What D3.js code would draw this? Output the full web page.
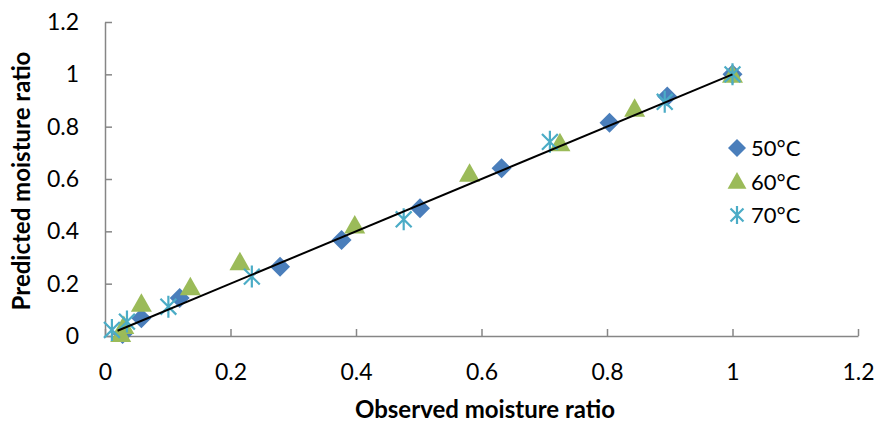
<!DOCTYPE html>
<html><head><meta charset="utf-8">
<script src="https://cdn.jsdelivr.net/npm/d3@7"></script>
<style>body{margin:0;background:#fff}svg{display:block}text{font-family:Lato,"Open Sans",sans-serif;fill:#000}</style>
</head><body><svg id="c" width="876" height="424"></svg>
<script>
const obs50 = [1.0, 0.896, 0.804, 0.632, 0.502, 0.377, 0.279, 0.119, 0.058, 0.028];
const pred50 = [1.0, 0.915, 0.815, 0.641, 0.488, 0.367, 0.265, 0.145, 0.068, 0.008];
const obs60 = [1.0, 0.844, 0.725, 0.581, 0.398, 0.215, 0.136, 0.058, 0.03, 0.025];
const pred60 = [1.0, 0.87, 0.739, 0.622, 0.424, 0.284, 0.188, 0.125, 0.04, 0.01];
const obs70 = [1.0, 0.892, 0.709, 0.476, 0.234, 0.101, 0.035, 0.011];
const pred70 = [1.0, 0.895, 0.742, 0.446, 0.227, 0.112, 0.055, 0.023];
const fitX = [0.02, 1.0];
const fitY = [0.02, 1.0];
const ticks = [0, 0.2, 0.4, 0.6, 0.8, 1, 1.2];
const seriesNames = ["50°C", "60°C", "70°C"];

const svg = d3.select("#c");
const x = d3.scaleLinear().domain([0, 1.2]).range([105, 858]);
const y = d3.scaleLinear().domain([0, 1.2]).range([336, 22]);
const axisCol = "#868686";

const xa = svg.append("g").attr("transform", "translate(0,336)")
  .call(d3.axisBottom(x).tickValues(ticks).tickFormat(d3.format("")).tickSizeInner(-7).tickSizeOuter(0).tickPadding(28));
const ya = svg.append("g").attr("transform", "translate(105,0)")
  .call(d3.axisLeft(y).tickValues(ticks).tickFormat(d3.format("")).tickSizeInner(-7).tickSizeOuter(0).tickPadding(26));
[xa, ya].forEach(a => {
  a.selectAll("path,line").attr("stroke", axisCol).attr("stroke-width", 1.5);
  a.selectAll("text").style("font-size", "23px").style("font-family", "Lato,sans-serif").attr("fill", "#000");
});

const colors = ["#4A7EBB", "#9BBB59", "#4BACC6"];
const diamond = (cx, cy, r) => `M${cx},${cy - r}L${cx + r},${cy}L${cx},${cy + r}L${cx - r},${cy}Z`;
const tri = (cx, cy, r) => `M${cx},${cy - r}L${cx + r * 1.05},${cy + r * 0.85}L${cx - r * 1.05},${cy + r * 0.85}Z`;
const starX = (cx, cy, r) => {
  let p = `M${cx},${cy - r}L${cx},${cy + r}`;
  const d = r * 0.72;
  p += `M${cx - d},${cy - d}L${cx + d},${cy + d}M${cx + d},${cy - d}L${cx - d},${cy + d}`;
  return p;
};

const g = svg.append("g");
g.selectAll(".d").data(obs50.map((v, i) => [v, pred50[i]])).enter().append("path")
  .attr("d", d => diamond(x(d[0]), y(d[1]), 10)).attr("fill", colors[0]);
g.selectAll(".t").data(obs60.map((v, i) => [v, pred60[i]])).enter().append("path")
  .attr("d", d => tri(x(d[0]), y(d[1]), 10)).attr("fill", colors[1]);
g.selectAll(".s").data(obs70.map((v, i) => [v, pred70[i]])).enter().append("path")
  .attr("d", d => starX(x(d[0]), y(d[1]), 11)).attr("stroke", colors[2]).attr("stroke-width", 2.2).attr("fill", "none");

svg.append("path").datum(fitX.map((v, i) => [v, fitY[i]]))
  .attr("d", d3.line().x(d => x(d[0])).y(d => y(d[1])))
  .attr("stroke", "#000").attr("stroke-width", 2).attr("fill", "none");

// legend
const lg = svg.append("g");
const ly = [148, 182, 215];
lg.append("path").attr("d", diamond(737, ly[0], 9)).attr("fill", colors[0]);
lg.append("path").attr("d", tri(737, ly[1] - 1, 9)).attr("fill", colors[1]);
lg.append("path").attr("d", starX(737, ly[2], 9)).attr("stroke", colors[2]).attr("stroke-width", 2.2).attr("fill", "none");
seriesNames.forEach((n, i) => {
  lg.append("text").attr("x", 751).attr("y", ly[i]).attr("dy", "0.35em").style("font-size", "22px").text(n);
});

svg.append("text").attr("x", 485).attr("y", 410).attr("text-anchor", "middle").attr("dy", "0.35em")
  .style("font-size", "24px").style("font-weight", "bold").text("Observed moisture ratio");
svg.append("text").attr("transform", "translate(22,181) rotate(-90)").attr("text-anchor", "middle").attr("dy", "0.35em")
  .style("font-size", "24px").style("font-weight", "bold").text("Predicted moisture ratio");
</script></body></html>
